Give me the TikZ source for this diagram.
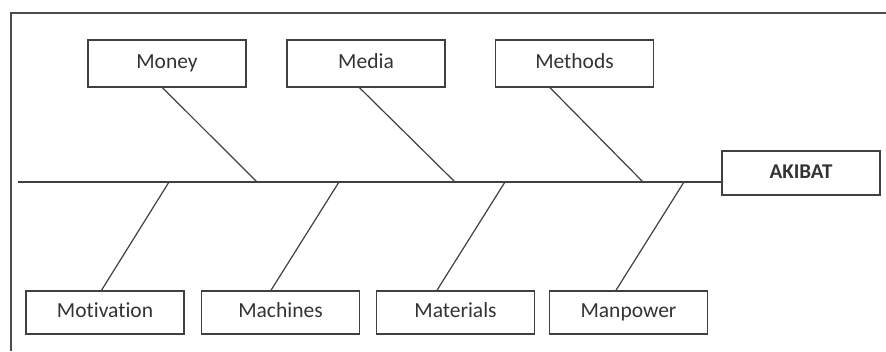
\documentclass[tikz,border=0pt]{standalone}
\usepackage{fontspec}
\setmainfont{Carlito}[Ligatures=NoCommon]
\usetikzlibrary{calc}

\begin{document}
\begin{tikzpicture}[
    x=1pt, y=-1pt, % pixel-like units, y runs down
    line width=1.2pt, draw=black!75,
    cause/.style={draw=black!75, rectangle, minimum width=158pt, minimum height=46pt,
                  inner sep=0pt, text height=14pt, text depth=4pt,
                  text=black!80, font=\fontsize{21.5}{25}\selectfont},
    effect/.style={cause, minimum height=44pt, font=\fontsize{21}{25}\selectfont\bfseries}
]
\useasboundingbox (0,0) rectangle (886,351);

% Frame (cut off on the right and at the bottom)
\draw[black!70] (11,351) -- (11,13) -- (886,13);

% Head of the fish
\node[effect] (akibat) at (801,173) {AKIBAT};

% Spine
\coordinate (tail) at (18,182);
\draw (tail) -- (tail -| akibat.west);

% Points where the bones meet the spine
\coordinate (sMoney)      at (257,182);
\coordinate (sMedia)      at (455,182);
\coordinate (sMethods)    at (643,182);
\coordinate (sMotivation) at (169,182);
\coordinate (sMachines)   at (339,182);
\coordinate (sMaterials)  at (505,182);
\coordinate (sManpower)   at (684,182);

% Upper causes
\node[cause, minimum height=47pt] (money)   at (167,63.5)   {Money};
\node[cause, minimum height=47pt] (media)   at (366,63.5)   {Media};
\node[cause, minimum height=47pt] (methods) at (574.5,63.5) {Methods};

% Lower causes
\node[cause, minimum height=43pt] (motivation) at (105,312.5)   {Motivation};
\node[cause, minimum height=43pt] (machines)   at (280.5,312.5) {Machines};
\node[cause, minimum height=43pt] (materials)  at (455.5,312.5) {Materials};
\node[cause, minimum height=43pt] (manpower)   at (628.5,312.5) {Manpower};

% Bones
\draw ($(money.south west)+(75,0)$)   -- (sMoney);
\draw ($(media.south west)+(73,0)$)   -- (sMedia);
\draw ($(methods.south west)+(55,0)$) -- (sMethods);

\draw ($(motivation.north west)+(76,0)$) -- (sMotivation);
\draw ($(machines.north west)+(70,0)$)   -- (sMachines);
\draw ($(materials.north west)+(61,0)$)  -- (sMaterials);
\draw ($(manpower.north west)+(67,0)$)   -- (sManpower);

\end{tikzpicture}
\end{document}
